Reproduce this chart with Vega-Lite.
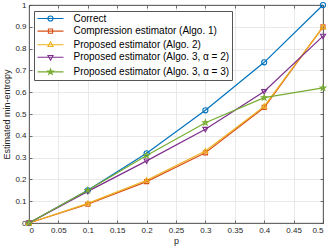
{
  "$schema": "https://vega.github.io/schema/vega-lite/v6.json",
  "width": 294,
  "height": 218,
  "autosize": {"type": "none"},
  "padding": {"left": 29, "top": 5, "right": 9, "bottom": 26},
  "background": "white",
  "config": {
    "font": "Liberation Sans",
    "view": {"stroke": "#4d4d4d", "strokeWidth": 0.8},
    "axis": {"labelFont": "Liberation Sans", "titleFont": "Liberation Sans", "labelColor": "#262626", "titleColor": "#262626", "labelFontSize": 8, "titleFontSize": 9, "titleFontWeight": "normal", "gridColor": "#e3e3e3", "gridWidth": 0.8, "domainColor": "#4d4d4d", "domainWidth": 0.8, "tickColor": "#4d4d4d", "tickWidth": 0.8}
  },
  "data": {"values": [
    {"s": "Correct", "p": 0, "v": 0},
    {"s": "Correct", "p": 0.1, "v": 0.15},
    {"s": "Correct", "p": 0.2, "v": 0.32},
    {"s": "Correct", "p": 0.3, "v": 0.517},
    {"s": "Correct", "p": 0.4, "v": 0.737},
    {"s": "Correct", "p": 0.5, "v": 1.0},
    {"s": "Compression estimator (Algo. 1)", "p": 0, "v": 0},
    {"s": "Compression estimator (Algo. 1)", "p": 0.1, "v": 0.086},
    {"s": "Compression estimator (Algo. 1)", "p": 0.2, "v": 0.19},
    {"s": "Compression estimator (Algo. 1)", "p": 0.3, "v": 0.322},
    {"s": "Compression estimator (Algo. 1)", "p": 0.4, "v": 0.53},
    {"s": "Compression estimator (Algo. 1)", "p": 0.5, "v": 0.9},
    {"s": "Proposed estimator (Algo. 2)", "p": 0, "v": 0},
    {"s": "Proposed estimator (Algo. 2)", "p": 0.1, "v": 0.09},
    {"s": "Proposed estimator (Algo. 2)", "p": 0.2, "v": 0.196},
    {"s": "Proposed estimator (Algo. 2)", "p": 0.3, "v": 0.33},
    {"s": "Proposed estimator (Algo. 2)", "p": 0.4, "v": 0.535},
    {"s": "Proposed estimator (Algo. 2)", "p": 0.5, "v": 0.9},
    {"s": "Proposed estimator (Algo. 3, α = 2)", "p": 0, "v": 0},
    {"s": "Proposed estimator (Algo. 3, α = 2)", "p": 0.1, "v": 0.145},
    {"s": "Proposed estimator (Algo. 3, α = 2)", "p": 0.2, "v": 0.285},
    {"s": "Proposed estimator (Algo. 3, α = 2)", "p": 0.3, "v": 0.43},
    {"s": "Proposed estimator (Algo. 3, α = 2)", "p": 0.4, "v": 0.603},
    {"s": "Proposed estimator (Algo. 3, α = 2)", "p": 0.5, "v": 0.857},
    {"s": "Proposed estimator (Algo. 3, α = 3)", "p": 0, "v": 0},
    {"s": "Proposed estimator (Algo. 3, α = 3)", "p": 0.1, "v": 0.15},
    {"s": "Proposed estimator (Algo. 3, α = 3)", "p": 0.2, "v": 0.31},
    {"s": "Proposed estimator (Algo. 3, α = 3)", "p": 0.3, "v": 0.46},
    {"s": "Proposed estimator (Algo. 3, α = 3)", "p": 0.4, "v": 0.575},
    {"s": "Proposed estimator (Algo. 3, α = 3)", "p": 0.5, "v": 0.62}
  ]},
  "resolve": {"scale": {"shape": "independent", "color": "independent"}, "axis": {"x": "independent", "y": "independent"}},
  "layer": [
    {
      "mark": {"type": "line", "strokeWidth": 1.2, "clip": false},
      "encoding": {
        "x": {"field": "p", "type": "quantitative", "scale": {"domain": [0, 0.5], "nice": false},
          "axis": {"values": [0, 0.05, 0.1, 0.15, 0.2, 0.25, 0.3, 0.35, 0.4, 0.45, 0.5], "format": ".2~f", "title": "p", "tickSize": -3, "labelPadding": 6, "titlePadding": 2, "domain": true}},
        "y": {"field": "v", "type": "quantitative", "scale": {"domain": [0, 1], "nice": false},
          "axis": {"values": [0, 0.1, 0.2, 0.3, 0.4, 0.5, 0.6, 0.7, 0.8, 0.9, 1], "format": ".1~f", "title": "Estimated min-entropy", "tickSize": -3, "labelPadding": 6, "titlePadding": 3}},
        "color": {"field": "s", "type": "nominal", "legend": null,
          "scale": {"domain": ["Correct", "Compression estimator (Algo. 1)", "Proposed estimator (Algo. 2)", "Proposed estimator (Algo. 3, α = 2)", "Proposed estimator (Algo. 3, α = 3)"], "range": ["#0072BD", "#D95319", "#EDB120", "#7E2F8E", "#77AC30"]}}
      }
    },
    {
      "mark": {"type": "point", "filled": false, "strokeWidth": 1.1, "size": 26, "opacity": 1, "clip": false},
      "encoding": {
        "x": {"field": "p", "type": "quantitative", "scale": {"domain": [0, 0.5], "nice": false}, "axis": null},
        "y": {"field": "v", "type": "quantitative", "scale": {"domain": [0, 1], "nice": false}, "axis": null},
        "color": {"field": "s", "type": "nominal", "legend": null,
          "scale": {"domain": ["Correct", "Compression estimator (Algo. 1)", "Proposed estimator (Algo. 2)", "Proposed estimator (Algo. 3, α = 2)", "Proposed estimator (Algo. 3, α = 3)"], "range": ["#0072BD", "#D95319", "#EDB120", "#7E2F8E", "#77AC30"]}},
        "shape": {"field": "s", "type": "nominal", "legend": null,
          "scale": {"domain": ["Correct", "Compression estimator (Algo. 1)", "Proposed estimator (Algo. 2)", "Proposed estimator (Algo. 3, α = 2)", "Proposed estimator (Algo. 3, α = 3)"],
            "range": ["circle", "M-0.8,-0.8H0.8V0.8H-0.8Z", "M0,-1L1,0.75H-1Z", "M0,1L1,-0.75H-1Z", "M0,-1.1L0.26,-0.36L1.05,-0.34L0.42,0.14L0.65,0.89L0,0.44L-0.65,0.89L-0.42,0.14L-1.05,-0.34L-0.26,-0.36Z"]}}
      }
    },
    {
      "mark": {"type": "point", "filled": false, "strokeWidth": 1.1, "opacity": 0},
      "encoding": {
        "x": {"field": "p", "type": "quantitative", "scale": {"domain": [0, 0.5], "nice": false}, "axis": null},
        "y": {"field": "v", "type": "quantitative", "scale": {"domain": [0, 1], "nice": false}, "axis": null},
        "color": {"field": "s", "type": "nominal",
          "scale": {"domain": ["Correct", "Compression estimator (Algo. 1)", "Proposed estimator (Algo. 2)", "Proposed estimator (Algo. 3, α = 2)", "Proposed estimator (Algo. 3, α = 3)"], "range": ["#0072BD", "#D95319", "#EDB120", "#7E2F8E", "#77AC30"]},
          "legend": {"orient": "none", "legendX": 5, "legendY": 6, "title": null, "symbolOpacity": 1, "symbolSize": 36, "symbolStrokeWidth": 1.1, "labelFont": "Liberation Sans", "labelFontSize": 10, "labelColor": "#000000", "strokeColor": "#555555", "fillColor": "white", "padding": 2.5, "rowPadding": 2.6, "labelOffset": 18, "symbolOffset": 9, "labelExpr": "datum.label + '     '"}},
        "shape": {"field": "s", "type": "nominal",
          "scale": {"domain": ["Correct", "Compression estimator (Algo. 1)", "Proposed estimator (Algo. 2)", "Proposed estimator (Algo. 3, α = 2)", "Proposed estimator (Algo. 3, α = 3)"],
            "range": ["M-4.33,0H4.33M0.85,0A0.85,0.85 0 1,1 -0.85,0A0.85,0.85 0 1,1 0.85,0", "M-4.33,0H4.33M-0.7,-0.7H0.7V0.7H-0.7Z", "M-4.33,0H4.33M0,-0.95L0.85,0.6H-0.85Z", "M-4.33,0H4.33M0,0.95L0.85,-0.6H-0.85Z", "M-4.33,0H4.33M0,-0.95L0.22,-0.31L0.9,-0.29L0.36,0.12L0.56,0.77L0,0.38L-0.56,0.77L-0.36,0.12L-0.9,-0.29L-0.22,-0.31Z"]}}
      }
    },
    {
      "mark": {"type": "point", "opacity": 0},
      "encoding": {
        "x": {"field": "p", "type": "quantitative", "scale": {"domain": [0, 0.5], "nice": false},
          "axis": {"orient": "top", "values": [0, 0.05, 0.1, 0.15, 0.2, 0.25, 0.3, 0.35, 0.4, 0.45, 0.5], "labels": false, "grid": false, "title": null, "tickSize": -3, "domain": true}},
        "y": {"field": "v", "type": "quantitative", "scale": {"domain": [0, 1], "nice": false},
          "axis": {"orient": "right", "values": [0, 0.1, 0.2, 0.3, 0.4, 0.5, 0.6, 0.7, 0.8, 0.9, 1], "labels": false, "grid": false, "title": null, "tickSize": -3, "domain": true}}
      }
    }
  ]
}
